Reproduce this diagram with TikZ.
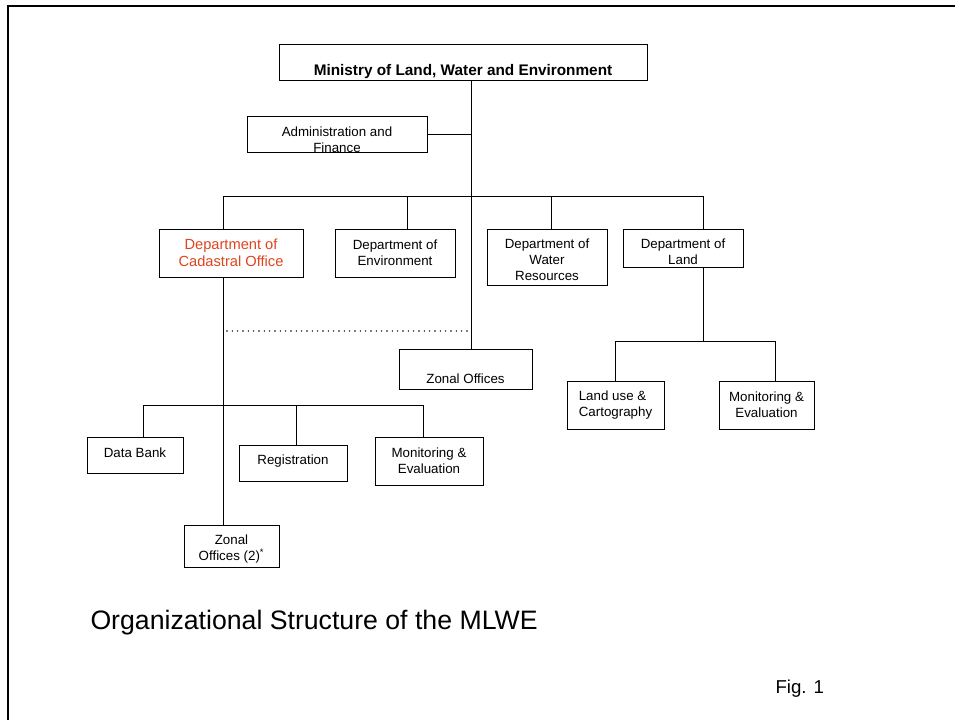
\documentclass[tikz,border=0pt]{standalone}
\usepackage{fontspec}
\setmainfont{Liberation Sans}
\definecolor{cadred}{RGB}{222,68,30}

\begin{document}
\begin{tikzpicture}[x=0.75pt, y=-0.75pt, line width=0.75pt,
  unit/.style={draw, align=center, inner sep=1pt, font=\fontsize{10}{12}\selectfont},
  lowered/.style={text height=#1, text depth=0pt},
  dotline/.style={line width=1.2pt, line cap=round, dash pattern=on 0pt off 4pt}]
\useasboundingbox (0,0) rectangle (955,720);
% frame
\draw[line width=1.5pt] (8,720) -- (8,6) -- (955,6);

% top level
\node[unit, minimum width=276pt, minimum height=27pt, font=\bfseries\fontsize{11.5}{13}\selectfont, lowered=18.7pt] (ministry) at (463,63) {Ministry of Land, Water and Environment};
\node[unit, minimum width=135pt, minimum height=27pt, inner sep=0pt, lowered=26.7pt] (admin) at (337,135) {Administration and\\Finance};

% departments
\node[unit, minimum width=108pt, minimum height=36pt, font=\fontsize{11}{13}\selectfont, text=cadred] (cadastral) at (231,253) {Department of\\Cadastral Office};
\node[unit, minimum width=90pt, minimum height=36pt] (environment) at (395,253) {Department of\\Environment};
\node[unit, minimum width=90pt, minimum height=42pt, lowered=35.7pt] (water) at (547,257) {Department of\\Water\\Resources};
\node[unit, minimum width=90pt, minimum height=28.5pt, lowered=25.2pt] (land) at (683,248) {Department of\\Land};

\node[unit, minimum width=99.75pt, minimum height=30pt, lowered=22.2pt] (zonal) at (465.5,369) {Zonal Offices};
\node[unit, minimum width=72.75pt, minimum height=36pt, align=left] (landuse) at (615.5,405) {Land use \&\\Cartography};
\node[unit, minimum width=71.25pt, minimum height=36pt] (landme) at (766.5,405) {Monitoring \&\\Evaluation};

% cadastral units
\node[unit, minimum width=72pt, minimum height=27pt, lowered=4.2pt] (databank) at (135,455) {Data Bank};
\node[unit, minimum width=81pt, minimum height=27pt, lowered=2.1pt] (registration) at (293,463) {Registration};
\node[unit, minimum width=81pt, minimum height=36pt] (cadme) at (429,461) {Monitoring \&\\Evaluation};
\node[unit, minimum width=71.25pt, minimum height=31.5pt, lowered=21pt] (zonaltwo) at (231.5,546) {Zonal\\Offices (2)\textsuperscript{*}};

% junction points
\coordinate (trunk) at (471,197);
\coordinate (dA) at (223,197);
\coordinate (dB) at (407,197);
\coordinate (dC) at (551,197);
\coordinate (dD) at (703,197);
\coordinate (landbus) at (703,341);
\coordinate (lm) at (775,341);
\coordinate (c1) at (143,405);
\coordinate (c2) at (296,405);
\coordinate (c3) at (423,405);
\coordinate (dotstart) at (227,331);
\coordinate (dotend) at (467,331);

\draw (ministry.south -| trunk) -- (zonal.north -| trunk);
\draw (admin.east) -- (admin.east -| trunk);
\draw (dA |- cadastral.north) -- (dA) -- (dD) -- (dD |- land.north);
\draw (dB) -- (dB |- environment.north);
\draw (dC) -- (dC |- water.north);
\draw (cadastral.south -| dA) -- (zonaltwo.north -| dA);
\draw (landbus |- land.south) -- (landbus);
\draw (landuse.north) |- (lm) -- (lm |- landme.north);
\draw (c1 |- databank.north) -- (c1) -- (c3) -- (c3 |- cadme.north);
\draw (c2) -- (c2 |- registration.north);
\draw[dotline] (dotstart) -- (dotend);

% captions
\node[anchor=base west, inner sep=0pt, font=\fontsize{20}{24}\selectfont] (caption) at (90,629) {Organizational Structure of the MLWE};
\node[anchor=base west, inner sep=0pt, font=\fontsize{14}{16}\selectfont] (fig) at (775,693) {Fig. 1};
\end{tikzpicture}
\end{document}
